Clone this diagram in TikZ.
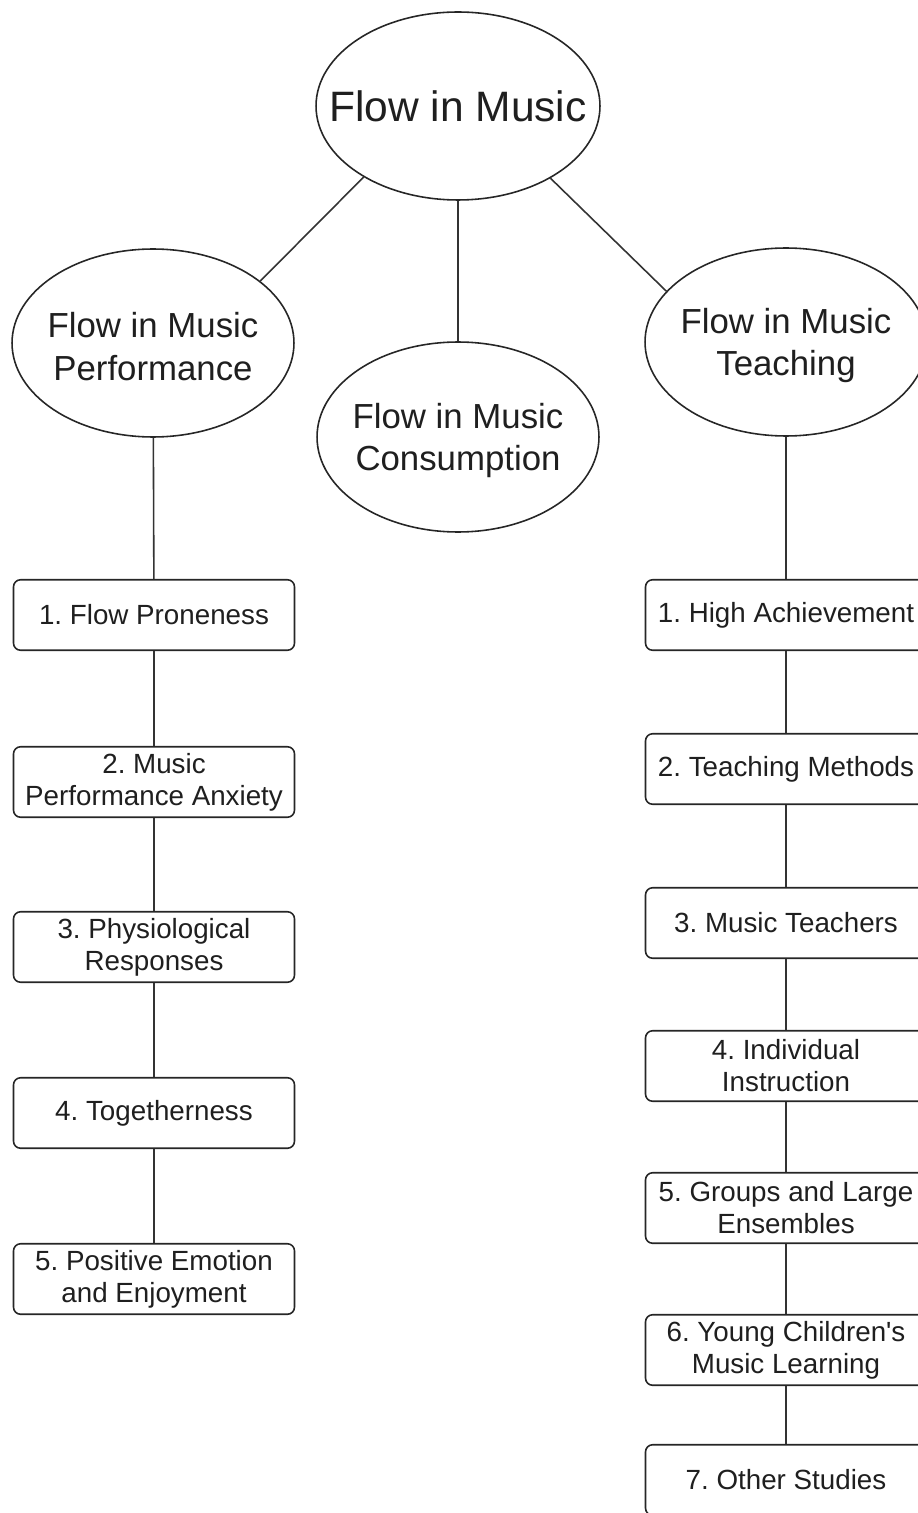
\documentclass[tikz,border=0pt]{standalone}
\usepackage{fontspec}
\setmainfont{Liberation Sans}
\usetikzlibrary{shapes.geometric}

\tikzset{
    topic/.style={ellipse, draw=black!85, line width=0.9pt, inner sep=0pt,
                  minimum width=5.64cm, minimum height=3.76cm},
    topictext/.style={align=center, inner sep=0pt, text=black!88,
                      font=\fontsize{19.8}{24.4}\selectfont},
    item/.style={rectangle, rounded corners=4pt, draw=black!85, line width=0.9pt,
                 minimum width=5.62cm, minimum height=1.41cm, inner sep=0pt,
                 align=center, text=black!88, font=\fontsize{15.8}{18.2}\selectfont},
    link/.style={draw=black!80, line width=0.9pt}
}

\begin{document}
\frenchspacing
\begin{tikzpicture}[x=0.02cm, y=-0.02cm]
    \useasboundingbox (0,0) rectangle (918,1513);
    \fill[white] (0,0) rectangle (918,1513);
    \clip (0,0) rectangle (918,1513);

    % Root
    \node[topic, minimum width=5.68cm,
          label={[topictext, font=\fontsize{24.2}{28}\selectfont]center:Flow in Music}] (flow) at (458,106) {};

    % Branches
    \node[topic, label={[topictext, yshift=-2pt]center:Flow in Music\\Performance}] (perf) at (153,343) {};
    \node[topic, minimum height=3.8cm,
          label={[topictext, yshift=-2pt]center:Flow in Music\\Consumption}] (cons) at (458,437) {};
    \node[topic, label={[topictext, yshift=-2pt]center:Flow in Music\\Teaching}] (teach) at (786,342) {};

    \draw[link] (flow.217) -- (perf.30);
    \draw[link] (flow) -- (cons);
    \draw[link] (flow.322) -- (teach.157);

    % Performance studies
    \node[item] (p1) at (154,615) {1. Flow Proneness};
    \node[item] (p2) at (154,782) {2. Music\\Performance Anxiety};
    \node[item] (p3) at (154,947) {3. Physiological\\Responses};
    \node[item] (p4) at (154,1113) {4. Togetherness};
    \node[item] (p5) at (154,1279) {5. Positive Emotion\\and Enjoyment};

    \draw[link] (perf) -- (p1) -- (p2) -- (p3) -- (p4) -- (p5);

    % Teaching studies
    \node[item] (t1) at (786,615) {1. High Achievement};
    \node[item] (t2) at (786,769) {2. Teaching Methods};
    \node[item] (t3) at (786,923) {3. Music Teachers};
    \node[item] (t4) at (786,1066) {4. Individual\\Instruction};
    \node[item] (t5) at (786,1208) {5. Groups and Large\\Ensembles};
    \node[item] (t6) at (786,1350) {6. Young Children\textquotesingle s\\Music Learning};
    \node[item] (t7) at (786,1480) {7. Other Studies};

    \draw[link] (teach) -- (t1) -- (t2) -- (t3) -- (t4) -- (t5) -- (t6) -- (t7);
\end{tikzpicture}
\end{document}
